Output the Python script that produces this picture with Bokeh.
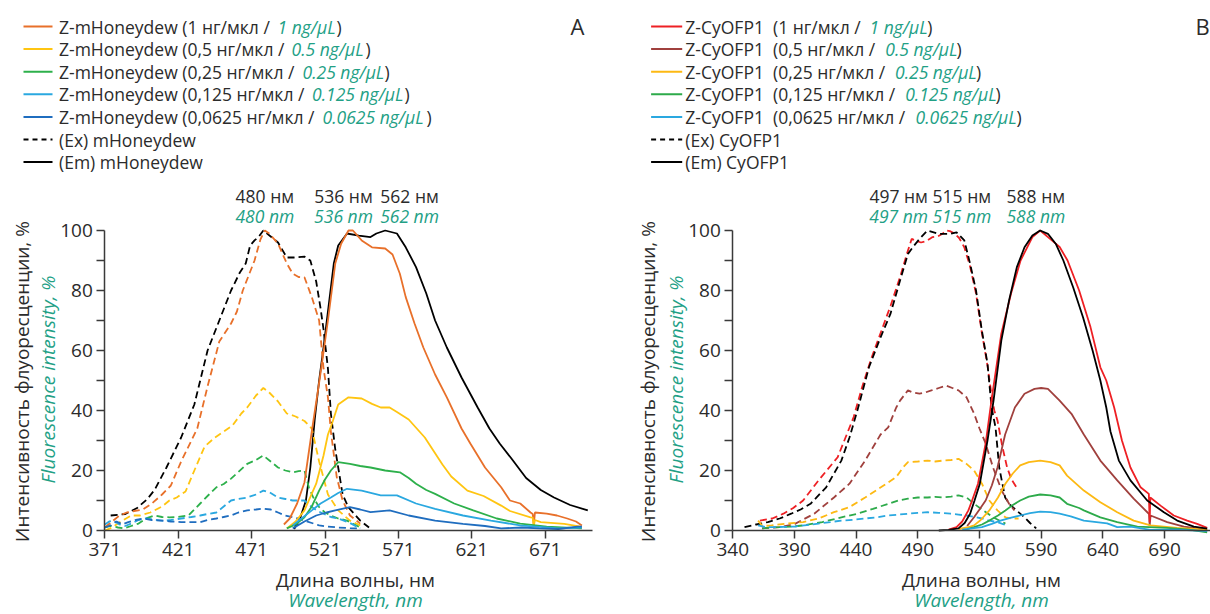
import math
from bokeh.plotting import figure
from bokeh.models import Range1d, FixedTicker
from bokeh.layouts import row
from bokeh.embed import file_html
from bokeh.resources import INLINE
from bokeh.core.properties import value

FONT = "Open Sans"
INK = "#2b2b2b"
AXIS = "#3a3a3a"
TEAL = "#22a085"
DASH = "7 4"

# ---------------- Panel A data (wavelength nm, intensity %) ----------------
a_ex_mhon_x = [375, 385, 393, 400, 405, 413, 423, 432, 441, 449, 457, 463, 467, 470, 473, 476, 479, 484, 489, 495, 500, 507, 511, 515, 518, 520, 523, 525, 528, 533, 537, 545, 551]
a_ex_mhon_y = [5, 5.5, 7.5, 10.5, 13.6, 21, 31, 42, 60, 70, 80, 86, 89, 95, 96.7, 98, 100, 98, 96, 91, 91, 91.3, 90, 83, 74, 67, 54, 39, 27, 12, 7.7, 3.3, 1]

a_ex_1_x = [371, 376, 381, 386, 391, 397, 403, 410, 416, 423, 430, 434, 441, 449, 457, 461, 465, 473, 477, 480, 483, 489, 495, 499, 503, 507, 512, 517, 520, 523, 525, 529, 533, 538, 545]
a_ex_1_y = [1, 3, 5, 6, 6.5, 7, 9, 12, 15, 23, 30, 34, 48, 63, 69, 73, 80, 90, 97, 100, 99, 95.6, 89, 85.6, 84.5, 84.4, 77.8, 70, 54, 44.4, 33, 17.8, 10, 5, 2.3]

a_ex_05_x = [371, 376, 382, 389, 395, 402, 410, 415, 420, 426, 432, 439, 446, 452, 458, 464, 468, 474, 479, 483, 489, 495, 501, 507, 512, 517, 523, 530, 538, 545]
a_ex_05_y = [0, 1, 3, 5, 5, 6, 8, 10, 11, 13, 20, 28, 31, 33, 35, 39, 41, 45, 47.5, 46, 43, 39, 38, 36.5, 34, 23, 12, 6.7, 3.3, 1.7]

a_ex_025_x = [371, 375, 380, 384, 389, 394, 399, 405, 410, 415, 421, 428, 436, 442, 447, 452, 457, 462, 468, 474, 479, 484, 489, 494, 499, 503, 507, 510, 513, 517, 521, 525, 530, 536, 545]
a_ex_025_y = [1, 1.5, 1, 0.7, 1.5, 2.3, 4, 5, 4.5, 4.4, 4.5, 5, 9, 12, 14.4, 15.5, 17.3, 19.5, 22.2, 23.5, 25, 23, 21, 20, 19.4, 19.8, 20, 14.4, 11, 7.8, 6, 5, 4, 3.3, 1]

a_ex_0125_x = [371, 374, 377, 381, 385, 389, 394, 399, 405, 410, 416, 423, 430, 436, 441, 447, 452, 457, 462, 468, 474, 479, 484, 489, 494, 499, 503, 507, 512, 516, 520, 525, 530, 538, 545]
a_ex_0125_y = [2, 3, 3.3, 2, 1.5, 2.3, 3.5, 4, 3.6, 3.3, 3.5, 4, 4.5, 5, 5.5, 6, 8, 10, 10.5, 11, 12, 13.3, 12.5, 11, 10.5, 10, 10, 10, 7.8, 6.5, 5.6, 4.5, 4, 2.5, 0.7]

a_ex_00625_x = [371, 375, 379, 383, 387, 392, 397, 403, 410, 416, 423, 430, 436, 441, 447, 452, 457, 462, 468, 474, 479, 484, 489, 494, 499, 503, 507, 512, 517, 523, 530, 538, 545]
a_ex_00625_y = [1, 1.7, 3, 2, 2.8, 3.5, 4, 3.5, 3.3, 3, 2.8, 2.8, 2.8, 3.5, 4, 4.5, 5, 6, 6.7, 7, 7.3, 7, 6, 5, 4.4, 4, 3.3, 2.5, 1.7, 1.3, 1, 0.8, 0.7]

a_em_mhon_x = [500, 504, 508, 511, 514, 517, 520, 523, 527, 530, 536, 544, 552, 556, 562, 570, 576, 583, 590, 596, 604, 614, 625, 633, 640, 648, 658, 668, 677, 688, 700]
a_em_mhon_y = [0.5, 4, 10, 21, 37, 50, 61, 73, 89, 95, 99, 98.3, 97.8, 99, 100, 99, 94.4, 87.8, 79, 70, 61, 51, 41, 34, 29, 24, 17.5, 13.5, 11, 8.5, 6.7]

a_em_1_x = [493, 497, 502, 507, 512, 516, 519, 523, 528, 532, 537, 540, 546, 553, 562, 567, 572, 576, 582, 588, 596, 604, 614, 620, 630, 641, 647, 654, 661, 662.5, 663.2, 664, 672, 679, 686, 692, 696]
a_em_1_y = [2, 4, 9, 16, 33, 46, 56, 70, 89, 95.6, 100, 100, 96.7, 94.4, 94, 92, 85.6, 77.8, 69, 61, 52, 44.4, 34, 29, 21, 14.4, 10, 9, 6, 5.5, 1.7, 6, 5.6, 5, 4, 3, 1.7]

a_em_05_x = [495, 501, 507, 515, 520, 523, 526, 530, 537, 546, 553, 559, 565, 570, 578, 589, 601, 607, 618, 629, 641, 647, 661, 662.5, 663.2, 664, 668, 684, 695]
a_em_05_y = [0.7, 3, 6.7, 15.6, 25, 32, 36, 42, 44.4, 44, 42.2, 41, 41, 39.5, 37, 31, 22, 18, 13.3, 11.5, 8.3, 6.5, 4.4, 4.3, 1.5, 3.5, 2.8, 2.2, 1.3]

a_em_025_x = [495, 501, 507, 512, 517, 521, 525, 530, 538, 545, 552, 562, 572, 578, 583, 590, 596, 609, 622, 638, 654, 672, 696]
a_em_025_y = [0.7, 2, 4.4, 8, 13.3, 17, 20, 22.8, 22.2, 21.5, 21, 20, 19.4, 17.5, 15.6, 13.5, 12.2, 9, 6.7, 4, 2.3, 1.3, 0.7]

a_em_0125_x = [499, 505, 512, 518, 525, 530, 536, 546, 559, 570, 583, 596, 615, 634, 654, 667, 680, 696]
a_em_0125_y = [1.7, 4, 6.7, 9, 11, 12.5, 13.9, 13.3, 11.7, 11.7, 9, 7.2, 5, 3.3, 1.7, 1.2, 0.7, 1]

a_em_00625_x = [499, 507, 515, 522, 528, 538, 545, 552, 565, 578, 596, 615, 630, 641, 655, 667, 680, 693, 696]
a_em_00625_y = [0.7, 3, 5, 6, 6.7, 7.8, 7, 6.1, 6.7, 5, 3.3, 2.2, 1.5, 0.7, 1, 0.7, 0.5, 1.3, 1.3]

# ---------------- Panel B data ----------------
b_ex_cyofp_x = [349.5, 359, 368.4, 378, 387.3, 395, 403, 415.7, 428, 434.6, 441, 450.4, 459.8, 467.8, 475.6, 482, 487, 491.4, 497.7, 507, 516.5, 521.4, 527.7, 532.4, 537.2, 541.9, 546.5, 549.8, 553, 556, 560.8, 565, 570, 576.5, 581, 586]
b_ex_cyofp_y = [1.1, 2, 2.8, 4, 5.6, 7, 8.9, 14.4, 23.3, 31, 40, 54.4, 64.4, 72.2, 83.3, 92.2, 95, 97.2, 100, 98.9, 98.9, 99.4, 96.7, 88.9, 80, 66.7, 55.6, 41, 34.4, 21, 11, 8.5, 6.7, 4.4, 2.5, 0.7]

b_ex_1_x = [362, 372, 381, 389, 397, 409.5, 425, 438, 445, 452, 460, 468, 476, 481, 485, 489, 492.6, 497, 502, 506, 510, 513, 516, 519.8, 523.5, 527.7, 532.4, 537.2, 541.9, 546.5, 549.8, 552, 554.6, 558.5, 562.4, 566, 570]
b_ex_1_y = [3.3, 4, 5.6, 7.5, 10, 16.7, 24.4, 37.8, 48, 57, 66, 75, 85, 92, 97.2, 96.5, 96, 96.5, 97.8, 98, 98.9, 100, 99.8, 99, 97.5, 94.4, 88, 79, 66, 55, 45, 40, 36.7, 28, 21, 17, 14.4]

b_ex_05_x = [363.7, 378, 390.4, 406, 422, 434.6, 447.3, 459.8, 466, 472.5, 475.6, 482, 486, 491.4, 496, 501, 507, 513, 518, 523, 529.5, 535.6, 540, 545, 551, 558, 564, 568.4]
b_ex_05_y = [0.7, 1.1, 2.2, 5.6, 11, 15.6, 23.3, 32, 34.4, 41, 43.3, 46.7, 46, 45.6, 46, 46.7, 47.5, 48.3, 47.5, 46.7, 44.4, 39, 34, 29, 21, 13.3, 8.9, 6.7]

b_ex_025_x = [360.5, 364, 371.4, 384, 397, 409.5, 422, 434.6, 447.3, 460, 472.5, 478, 482, 490, 497.9, 504, 510.4, 517, 523, 529.5, 535.6, 542, 548, 554.6, 561, 566, 571.7]
b_ex_025_y = [3.3, 1.5, 1.7, 2.3, 2.8, 4, 6.1, 7.8, 11, 14.4, 17.8, 21, 22.8, 23, 23.3, 23, 23.3, 23.5, 23.9, 22.2, 20, 15.6, 10, 6.7, 4.4, 4, 4]

b_ex_0125_x = [364, 370, 378, 388, 397, 412.6, 428, 441, 453.6, 466, 474, 482, 490, 497.9, 504, 510, 517, 523, 529.5, 535.6, 543, 551, 561]
b_ex_0125_y = [0.7, 1, 1.1, 1.3, 1.7, 2.8, 4.4, 5.6, 7.2, 8.9, 10, 10.6, 11, 11, 11.2, 11, 11.3, 11.7, 11, 8.9, 6.7, 4.4, 2.3]

b_ex_00625_x = [360.5, 366, 371.4, 381, 390.4, 400, 409.5, 419, 428, 438, 447, 457, 466, 474, 482, 490, 497.9, 507, 516.5, 523, 529.5, 536, 542, 548, 554.6, 562]
b_ex_00625_y = [1.7, 1.2, 1.1, 1.2, 1.3, 1.8, 2.3, 2.8, 3.3, 3.6, 4, 4.4, 5, 5.3, 5.6, 5.9, 6.1, 5.9, 5.6, 5.3, 5, 4.5, 4, 3.3, 2.8, 1.7]

b_em_cyofp_x = [507, 515, 523, 528, 532.4, 536, 540.3, 546.5, 551.4, 557.7, 564, 570.3, 576.5, 582.9, 589.2, 595.5, 601.8, 608, 616, 624, 631.7, 638, 642.8, 646.2, 653, 662.4, 676, 689.5, 700.3, 713.8, 724.6]
b_em_cyofp_y = [0, 0.2, 0.7, 2.5, 5.6, 10, 15.6, 30, 43.3, 63.3, 76.7, 87.8, 94.4, 98.3, 100, 98.9, 95.6, 90, 81, 71, 60, 50, 41, 33, 23.3, 16.7, 10, 6.1, 3.3, 1.3, 0.6]

b_em_1_x = [515, 521.4, 526, 531, 534, 538.8, 545, 549.7, 557.7, 565.6, 573.3, 582.9, 589.2, 598.7, 605, 611.4, 620.8, 630, 638, 642.8, 649.2, 655.5, 662.4, 670.6, 677.3, 678, 678.5, 686.8, 697.5, 708.4, 716.5, 724.6]
b_em_1_y = [0.3, 1.1, 3, 6.7, 10, 15.6, 29, 43.3, 65.6, 79, 90, 97.8, 100, 96.7, 94.5, 90, 80, 67.8, 54.4, 50, 41, 30, 21, 14.4, 12.2, 2.8, 11, 8.3, 5, 3.3, 2.2, 0.9]

b_em_05_x = [530, 535.6, 540, 545, 550, 554.6, 560.8, 568.7, 576.5, 584.6, 590, 595.5, 605, 614.6, 624.6, 638, 651.7, 665, 677.5, 678, 678.7, 692.2, 705.7, 715, 724.6]
b_em_05_y = [1.5, 4.4, 7, 10, 15, 21, 32, 41, 45.6, 47.2, 47.5, 47.2, 43.3, 38.9, 32, 23.3, 16.7, 10.6, 5.5, 1.5, 5, 2.8, 1.3, 0.8, 0.3]

b_em_025_x = [523, 530, 535.6, 541, 548, 555, 561, 567, 573, 580, 589.2, 597.6, 605, 611, 624.6, 638, 651.7, 665, 678.7, 700, 724.6]
b_em_025_y = [0.5, 1, 1.7, 3.5, 6.7, 11, 15.6, 19, 21.7, 22.8, 23.3, 22.8, 21.7, 18.3, 13.3, 9.4, 6.1, 3.3, 1.7, 0.9, 0.3]

b_em_0125_x = [530, 535.6, 542, 548, 555, 561, 567, 573, 580, 589.2, 597.6, 605, 611, 620.8, 624.6, 638, 651.7, 668, 692, 710, 724.6]
b_em_0125_y = [0.5, 1.1, 2, 3.3, 5, 6.7, 8.5, 10, 11.3, 12, 11.7, 11, 8.9, 7.5, 6.7, 4.4, 2.8, 1.3, 0.9, 0.3, -0.6]

b_em_00625_x = [526, 534, 542, 550, 557, 565, 573, 581, 589.2, 597.6, 605, 614, 624.6, 643.5, 651.7, 662.4, 678.7, 700, 724.6]
b_em_00625_y = [0.3, 0.7, 1.1, 2.2, 3.3, 4.2, 5, 5.8, 6.3, 6.1, 5.6, 4.7, 3.3, 2.4, 1.1, 1.3, 0.2, 0.3, -0.2]

# ---------------- texts ----------------
conc_ru = ["1", "0,5", "0,25", "0,125", "0,0625"]
conc_en = ["1", "0.5", "0.25", "0.125", "0.0625"]
a_colors = ["#e8702a", "#ffc511", "#2db04b", "#2aa8e0", "#1f6dbf"]
b_colors = ["#ee2024", "#a0403d", "#fdb913", "#2daa4a", "#2aa8e0"]
a_name = "Z-mHoneydew"
b_name = "Z-CyOFP1\u00a0\u00a0"
a_ref = "mHoneydew"
b_ref = "CyOFP1"
x_ticks_a = [371, 421, 471, 521, 571, 621, 671]
x_ticks_b = [340, 390, 440, 490, 540, 590, 640, 690]
a_peaks = [480, 536, 562]
b_peaks = [497, 515, 588]
y_title_ru = "Интенсивность флуоресценции, %"
y_title_en = "Fluorescence intensity, %"
x_title_ru = "Длина волны, нм"
x_title_en = "Wavelength, nm"

# ---------------- layout constants (pixels) ----------------
H = 614
PANEL_W = (628, 582)
AXIS_PX = 104.3          # y-axis position inside each panel
ZERO_PY = 530            # pixel row of intensity 0
SY = 3.0                 # px per % intensity
SX = (1.468, 1.2334)     # px per nm
X_START = (371, 340)
ROW_Y0, ROW_DY = 26, 22.6


def panel(idx, name, ref, colors, curves, xticks, peaks, peak_x, legend, letter, title_x):
    w = PANEL_W[idx]
    sx = SX[idx]
    x_lo = X_START[idx] - AXIS_PX / sx
    x_hi = x_lo + w / sx
    y_hi = ZERO_PY / SY
    y_lo = y_hi - H / SY

    def X(px):
        return x_lo + px / sx

    def Y(py):
        return y_hi - py / SY

    p = figure(width=w, height=H, x_range=Range1d(x_lo, x_hi), y_range=Range1d(y_lo, y_hi),
               toolbar_location=None, output_backend="svg", min_border=0)
    if "frame_align" in p.properties():
        p.frame_align = False
    p.grid.visible = False
    p.outline_line_color = None

    for xs, ys, col, dash in curves:
        p.line(xs, ys, line_color=col, line_width=1.8, line_dash=dash)

    xa, ya = p.xaxis[0], p.yaxis[0]
    xa.fixed_location = 0
    ya.fixed_location = X_START[idx]
    xa.bounds = (X_START[idx], X(591.7) if idx == 0 else x_hi)
    ya.bounds = (0, 100)
    for ax in (xa, ya):
        ax.axis_line_color = AXIS
        ax.axis_line_width = 1.5
        ax.major_tick_line_color = AXIS
        ax.major_tick_line_width = 1.5
        ax.major_tick_in = 0
        ax.major_tick_out = 8
        ax.major_label_text_font = FONT
        ax.major_label_text_font_size = "19px"
        ax.major_label_text_color = INK
        ax.major_label_standoff = 4
    xa.ticker = FixedTicker(ticks=xticks)
    xa.minor_tick_line_color = None
    ya.ticker = FixedTicker(ticks=[0, 20, 40, 60, 80, 100], minor_ticks=[10, 30, 50, 70, 90])
    ya.minor_tick_in = 0
    ya.minor_tick_out = 8
    ya.minor_tick_line_color = AXIS
    ya.minor_tick_line_width = 1.5

    def txt(pxs, pys, texts, color=INK, size="17.5px", style="normal", align="left", angle=0.0):
        p.text(x=[X(v) for v in pxs], y=[Y(v) for v in pys], text=list(texts), text_color=color,
               text_font=value(FONT), text_font_size=size, text_font_style=style,
               text_baseline="middle", text_align=align, angle=angle)

    # legend
    sample, text_x, green_x, close_x = legend
    rows = [ROW_Y0 + ROW_DY * i for i in range(7)]
    for i in range(5):
        p.line([X(sample[0]), X(sample[1])], [Y(rows[i])] * 2, line_color=colors[i], line_width=2)
    p.line([X(sample[0]), X(sample[1])], [Y(rows[5])] * 2, line_color="black", line_width=2, line_dash="5 4")
    p.line([X(sample[0]), X(sample[1])], [Y(rows[6])] * 2, line_color="black", line_width=2)
    black_txt = [f"{name}({c} нг/мкл / " if name.endswith("\u00a0") else f"{name} ({c} нг/мкл / "
                 for c in conc_ru] + [f"(Ex) {ref}", f"(Em) {ref}"]
    txt([text_x] * 7, rows, black_txt)
    txt(green_x, rows[:5], [f"{c} ng/μL" for c in conc_en], color=TEAL, style="italic")
    txt(close_x, rows[:5], [")"] * 5)
    txt([letter[1]], [25], [letter[0]], size="22px", align=letter[2])

    # peak labels
    pk_px = [(v - x_lo) * sx for v in peak_x]
    txt(pk_px, [195] * 3, [f"{v} нм" for v in peaks], align="center")
    txt(pk_px, [215] * 3, [f"{v} nm" for v in peaks], color=TEAL, style="italic", align="center")

    # axis titles
    txt([title_x[0]], [381], [y_title_ru], size="19px", align="center", angle=math.pi / 2)
    txt([title_x[1]], [379], [y_title_en], color=TEAL, size="19px", style="italic", align="center",
        angle=math.pi / 2)
    txt([title_x[2]], [579], [x_title_ru], size="19px", align="center")
    txt([title_x[2]], [599], [x_title_en], color=TEAL, size="19px", style="italic", align="center")
    return p


curves_a = [
    (a_ex_mhon_x, a_ex_mhon_y, "black", DASH),
    (a_em_mhon_x, a_em_mhon_y, "black", "solid"),
    (a_ex_1_x, a_ex_1_y, a_colors[0], DASH),
    (a_ex_05_x, a_ex_05_y, a_colors[1], DASH),
    (a_ex_025_x, a_ex_025_y, a_colors[2], DASH),
    (a_ex_0125_x, a_ex_0125_y, a_colors[3], DASH),
    (a_ex_00625_x, a_ex_00625_y, a_colors[4], DASH),
    (a_em_1_x, a_em_1_y, a_colors[0], "solid"),
    (a_em_05_x, a_em_05_y, a_colors[1], "solid"),
    (a_em_025_x, a_em_025_y, a_colors[2], "solid"),
    (a_em_0125_x, a_em_0125_y, a_colors[3], "solid"),
    (a_em_00625_x, a_em_00625_y, a_colors[4], "solid"),
]
curves_b = [
    (b_ex_1_x, b_ex_1_y, b_colors[0], DASH),
    (b_ex_cyofp_x, b_ex_cyofp_y, "black", DASH),
    (b_ex_05_x, b_ex_05_y, b_colors[1], DASH),
    (b_ex_025_x, b_ex_025_y, b_colors[2], DASH),
    (b_ex_0125_x, b_ex_0125_y, b_colors[3], DASH),
    (b_ex_00625_x, b_ex_00625_y, b_colors[4], DASH),
    (b_em_05_x, b_em_05_y, b_colors[1], "solid"),
    (b_em_025_x, b_em_025_y, b_colors[2], "solid"),
    (b_em_0125_x, b_em_0125_y, b_colors[3], "solid"),
    (b_em_00625_x, b_em_00625_y, b_colors[4], "solid"),
    (b_em_1_x, b_em_1_y, b_colors[0], "solid"),
    (b_em_cyofp_x, b_em_cyofp_y, "black", "solid"),
]

panel_a = panel(0, a_name, a_ref, a_colors, curves_a, x_ticks_a, a_peaks, [480, 533.6, 578.6],
                ((23, 52), 58.5, [277, 291, 302, 311.5, 322], [336, 365, 384, 404, 426]),
                ("A", 577, "center"), (21, 47, 355))
panel_b = panel(1, b_name, b_ref, b_colors, curves_b, x_ticks_b, b_peaks, [474.5, 525.7, 585.7],
                ((22.6, 53.7), 56.8, [241, 256.8, 266.5, 276.7, 287], [298.8, 328, 347.4, 367, 388]),
                ("B", 567, "left"), (19.5, 47, 353))

layout = row(panel_a, panel_b, spacing=0)

with open("out.html", "w") as f:
    f.write(file_html(layout, INLINE))
